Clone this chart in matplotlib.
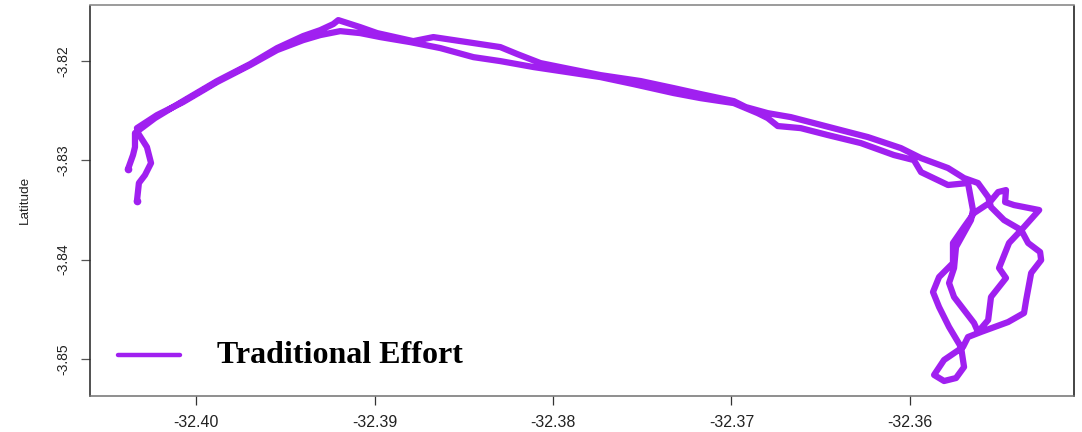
import matplotlib
matplotlib.use("Agg")
import matplotlib.pyplot as plt

track_lon = [
    -32.40331, -32.40320, -32.40286, -32.40252, -32.40275, -32.40325, -32.40331, -32.40219, -32.40073, -32.39882,
    -32.39697, -32.39546, -32.39400, -32.39304, -32.39192, -32.39080, -32.38968, -32.38799, -32.38631, -32.38446,
    -32.38295, -32.38109, -32.37919, -32.37734, -32.37548, -32.37324, -32.37173, -32.36987, -32.36853, -32.36797,
    -32.36741, -32.36612, -32.36460, -32.36275, -32.36090, -32.35978, -32.35938, -32.35787, -32.35675, -32.35647,
    -32.35658, -32.35742, -32.35753, -32.35781, -32.35753, -32.35641, -32.35619, -32.35562, -32.35546, -32.35462,
    -32.35501, -32.35445, -32.35366, -32.35276, -32.35417, -32.35467, -32.35462, -32.35506, -32.35557, -32.35641,
    -32.35697, -32.35759, -32.35759, -32.35837, -32.35871, -32.35837, -32.35781, -32.35714, -32.35697, -32.35742,
    -32.35809, -32.35865, -32.35809, -32.35703, -32.35675, -32.35602, -32.35450, -32.35361, -32.35349, -32.35321,
    -32.35265, -32.35271, -32.35338, -32.35377, -32.35473, -32.35546, -32.35562, -32.35619, -32.35697, -32.35787,
    -32.35938, -32.36051, -32.36236, -32.36387, -32.36539, -32.36668, -32.36797, -32.36920, -32.36987, -32.37173,
    -32.37324, -32.37509, -32.37734, -32.37902, -32.38070, -32.38199, -32.38295, -32.38480, -32.38670, -32.38783,
    -32.38985, -32.39080, -32.39203, -32.39231, -32.39304, -32.39400, -32.39546, -32.39697, -32.39882, -32.40073,
    -32.40230, -32.40342, -32.40342, -32.40353, -32.40381,
]
track_lat = [
    -3.83410, -3.83228, -3.83148, -3.83027, -3.82866, -3.82725, -3.82675, -3.82544, -3.82413, -3.82211,
    -3.82040, -3.81889, -3.81789, -3.81738, -3.81698, -3.81718, -3.81758, -3.81809, -3.81869, -3.81960,
    -3.82000, -3.82060, -3.82111, -3.82161, -3.82232, -3.82322, -3.82373, -3.82423, -3.82524, -3.82574,
    -3.82654, -3.82675, -3.82745, -3.82826, -3.82946, -3.82997, -3.83118, -3.83248, -3.83228, -3.83500,
    -3.83601, -3.83873, -3.84084, -3.84235, -3.84376, -3.84638, -3.84728, -3.84608, -3.84376, -3.84185,
    -3.84084, -3.83832, -3.83681, -3.83500, -3.83450, -3.83420, -3.83299, -3.83319, -3.83430, -3.83530,
    -3.83671, -3.83832, -3.84034, -3.84175, -3.84326, -3.84477, -3.84678, -3.84880, -3.85081, -3.85192,
    -3.85222, -3.85161, -3.85010, -3.84880, -3.84779, -3.84728, -3.84628, -3.84537, -3.84406, -3.84134,
    -3.84004, -3.83923, -3.83832, -3.83701, -3.83601, -3.83470, -3.83369, -3.83228, -3.83178, -3.83077,
    -3.82977, -3.82876, -3.82765, -3.82695, -3.82624, -3.82564, -3.82524, -3.82463, -3.82403, -3.82332,
    -3.82272, -3.82201, -3.82141, -3.82081, -3.82020, -3.81930, -3.81859, -3.81809, -3.81758, -3.81799,
    -3.81718, -3.81658, -3.81587, -3.81627, -3.81688, -3.81748, -3.81869, -3.82030, -3.82201, -3.82403,
    -3.82574, -3.82725, -3.82866, -3.82946, -3.83087,
]
x_ticks = [-32.40, -32.39, -32.38, -32.37, -32.36]
x_tick_labels = ["-32.40", "-32.39", "-32.38", "-32.37", "-32.36"]
y_ticks = [-3.82, -3.83, -3.84, -3.85]
y_tick_labels = ["-3.82", "-3.83", "-3.84", "-3.85"]
series_name = "Traditional Effort"
y_label = "Latitude"
COLOR = "#A020F0"

W, H = 1082, 432
fig = plt.figure(figsize=(W / 100, H / 100), dpi=100)
L, R, T, B = 90, 1074, 5.5, 396
ax = fig.add_axes([L / W, 1 - B / H, (R - L) / W, (B - T) / H])
ax.set_xlim(-32.40594, -32.35081)
ax.set_ylim(-3.85373, -3.81440)

ax.plot(track_lon, track_lat, color=COLOR, lw=4.5, solid_capstyle="round",
        solid_joinstyle="round", marker="o", markevery=[0, -1], ms=5.5, mew=0)
ax.plot([], [], color=COLOR, lw=3.2, solid_capstyle="round", label=series_name)

ax.set_xticks(x_ticks, x_tick_labels, family="Liberation Sans", fontsize=11.5, color="#222222")
ax.set_yticks(y_ticks, y_tick_labels, family="Liberation Sans", fontsize=10, color="#222222",
              rotation=90, va="center")
ax.tick_params(axis="x", length=6.5, width=0.9, color="#333333", pad=7)
ax.tick_params(axis="y", length=6.5, width=0.9, color="#555555", pad=7.5)
ax.spines["top"].set_color("#808080")
ax.spines["bottom"].set_color("#707070")
ax.spines["left"].set_color("#222222")
ax.spines["right"].set_color("#111111")
for s in ax.spines.values():
    s.set_linewidth(1.1)

ax.set_ylabel(y_label, family="Liberation Sans", fontsize=9.7, color="#222222")
ax.yaxis.set_label_coords(31 / W, 1 - 200 / H, transform=fig.transFigure)

leg = ax.legend(loc="lower left", bbox_to_anchor=(118 / W, 1 - 373 / H),
                bbox_transform=fig.transFigure, frameon=False, borderaxespad=0, borderpad=0,
                handlelength=1.94, handletextpad=1.16,
                prop={"family": "Liberation Serif", "weight": "bold", "size": 23})
leg.get_texts()[0].set_position((0, 3))

fig.savefig("out.png", dpi=100)
